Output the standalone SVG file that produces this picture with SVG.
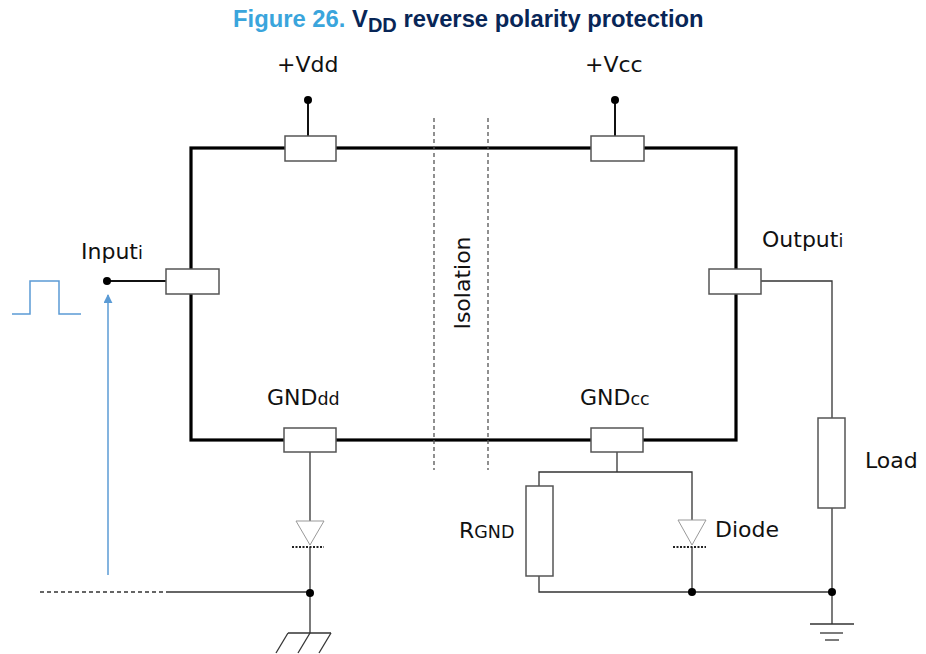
<svg xmlns="http://www.w3.org/2000/svg" width="926" height="654" viewBox="0 0 926 654">
<style>
.lbl{font-family:"DejaVu Sans",sans-serif;font-size:22px;fill:#111}
.sub{font-size:17.5px}
.box{fill:#fff;stroke:#555;stroke-width:1.5}
.main{fill:none;stroke:#000;stroke-width:3.2}
.pin{fill:none;stroke:#111;stroke-width:2}
.wire{fill:none;stroke:#333;stroke-width:1.3}
.dot{fill:#000}
.iso{stroke:#555;stroke-width:1.3;stroke-dasharray:4 3}
.diode{fill:#fff;stroke:#999;stroke-width:1}
.bar{stroke:#222;stroke-width:2;stroke-dasharray:2 1.5}
</style>
<defs>
<marker id="arr" viewBox="0 0 10 10" refX="9" refY="5" markerWidth="9" markerHeight="9" markerUnits="userSpaceOnUse" orient="auto">
<path d="M0,0 L10,5 L0,10 z" fill="#5b9bd5"/>
</marker>
</defs>
<rect width="926" height="654" fill="#fff"/>
<text x="233" y="27" font-family="Liberation Sans,Arial,sans-serif" font-weight="bold" font-size="23.8"><tspan fill="#3aa5dc">Figure 26. </tspan><tspan fill="#082657">V</tspan><tspan fill="#082657" font-size="20" dy="5">DD</tspan><tspan fill="#082657" dy="-5"> reverse polarity protection</tspan></text>

<g id="connectors">
<rect x="191" y="148" width="545" height="292" class="main"/>
<line x1="434" y1="118" x2="434" y2="470" class="iso"/>
<line x1="488" y1="118" x2="488" y2="470" class="iso"/>
<line x1="308" y1="100" x2="308" y2="136" class="pin"/>
<line x1="615" y1="100" x2="615" y2="136" class="pin"/>
<line x1="107" y1="281" x2="166" y2="281" class="pin"/>
<polyline points="761,281 832,281 832,418" class="wire"/>
<polyline points="832,508 832,624" class="wire"/>
<line x1="810" y1="624" x2="854" y2="624" class="wire"/>
<line x1="820" y1="633" x2="843" y2="633" class="wire"/>
<line x1="825" y1="640" x2="839" y2="640" class="wire"/>
<line x1="617" y1="452" x2="617" y2="472" class="wire"/>
<polyline points="539,486 539,472 692,472 692,520" class="wire"/>
<polyline points="539,576 539,592 832,592" class="wire"/>
<line x1="692" y1="547" x2="692" y2="592" class="wire"/>
<line x1="310" y1="452" x2="310" y2="521" class="wire"/>
<line x1="310" y1="547" x2="310" y2="633" class="wire"/>
<line x1="166" y1="592" x2="310" y2="592" class="wire"/>
<line x1="40" y1="592" x2="166" y2="592" stroke="#333" stroke-width="1.3" stroke-dasharray="4 3"/>
<line x1="288" y1="633" x2="331" y2="633" class="wire"/>
<line x1="288" y1="633" x2="276" y2="653" class="wire"/>
<line x1="310" y1="633" x2="298" y2="653" class="wire"/>
<line x1="331" y1="633" x2="319" y2="653" class="wire"/>
<polyline points="12,314 30,314 30,281 59,281 59,314 81,314" fill="none" stroke="#5b9bd5" stroke-width="1.5"/>
<line x1="108" y1="575" x2="108" y2="295" stroke="#5b9bd5" stroke-width="1.5" marker-end="url(#arr)"/>
<circle cx="308" cy="100" r="4" class="dot"/>
<circle cx="615" cy="100" r="4" class="dot"/>
<circle cx="107" cy="281" r="4" class="dot"/>
<circle cx="310" cy="593" r="4" class="dot"/>
<circle cx="692" cy="592" r="4" class="dot"/>
<circle cx="832" cy="592" r="4" class="dot"/>
</g>

<g id="vdd"><rect x="285" y="136" width="51" height="25" class="box"/><text x="277" y="72" class="lbl">+Vdd</text></g>
<g id="vcc"><rect x="591" y="136" width="53" height="25" class="box"/><text x="585" y="72" class="lbl">+Vcc</text></g>
<g id="input"><rect x="166" y="269" width="53" height="25" class="box"/><text x="81" y="259" class="lbl">Input<tspan class="sub">i</tspan></text></g>
<g id="output"><rect x="709" y="269" width="52" height="25" class="box"/><text x="762" y="247" class="lbl">Output<tspan class="sub">i</tspan></text></g>
<g id="gnddd"><rect x="284" y="428" width="52" height="24" class="box"/><text x="267" y="405" class="lbl">GND<tspan class="sub">dd</tspan></text></g>
<g id="gndcc"><rect x="591" y="428" width="52" height="24" class="box"/><text x="580" y="405" class="lbl">GND<tspan class="sub">cc</tspan></text></g>
<g id="isolation"><text transform="translate(470,283) rotate(-90)" text-anchor="middle" class="lbl" font-size="23">Isolation</text></g>
<g id="load"><rect x="818" y="418" width="27" height="90" class="box"/><text x="865" y="468" class="lbl">Load</text></g>
<g id="rgnd"><rect x="526" y="486" width="27" height="90" class="box"/><text x="459" y="538" class="lbl">R<tspan class="sub">GND</tspan></text></g>
<g id="diode"><polygon points="678,520 706,520 692,545" class="diode"/><line x1="673" y1="547" x2="706" y2="547" class="bar"/><text x="715" y="537" class="lbl">Diode</text></g>
<g id="diode-gnd"><polygon points="296,521 324,521 310,545" class="diode"/><line x1="292" y1="547" x2="324" y2="547" class="bar"/></g>
</svg>
